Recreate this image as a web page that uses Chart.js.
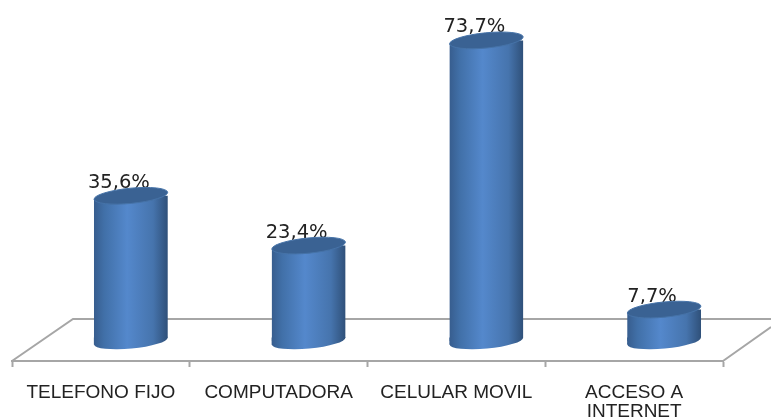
<!DOCTYPE html>
<html>
<head>
<meta charset="utf-8">
<style>
  html, body { margin: 0; background: #fff; }
  canvas { display: block; }
</style>
<script src="https://cdn.jsdelivr.net/npm/chart.js@4"></script>
</head>
<body>
<canvas id="chart1" width="771" height="419"></canvas>
<script>
var categories = ["TELEFONO FIJO", "COMPUTADORA", "CELULAR MOVIL", ["ACCESO A", "INTERNET"]];
var values = [35.6, 23.4, 73.7, 7.7];

var depthX = 30;      // bars sit this far right of their axis slot
var capRy = 7.6;
var capTilt = -5.5 * Math.PI / 180;
var capRise = 3.5;    // how much the cap's tilt lifts its right end

function barGradient(ctx, cx, half) {
  var g = ctx.createLinearGradient(cx - half, 0, cx + half, 0);
  g.addColorStop(0, "#375d8e");
  g.addColorStop(0.14, "#4170a8");
  g.addColorStop(0.45, "#5488cc");
  g.addColorStop(0.8, "#4674ad");
  g.addColorStop(1, "#2f5079");
  return g;
}

// floor of the 3D plot, drawn behind the bars, plus the value labels
var floorPlugin = {
  id: "floor",
  beforeDatasetsDraw: function (chart) {
    var c = chart.ctx, x = chart.scales.x, meta = chart.getDatasetMeta(0);
    var y0 = x.top, backY = y0 - 42;
    c.save();
    c.strokeStyle = "#a6a6a6";
    c.lineWidth = 2;
    c.beginPath();
    c.moveTo(x.left, y0);
    c.lineTo(x.left + 61, backY);
    c.lineTo(chart.width, backY);
    c.moveTo(x.right, y0);
    c.lineTo(chart.width, y0 - 34);
    c.stroke();

    c.fillStyle = "#222";
    c.font = "19.5px 'DejaVu Sans'";
    c.textAlign = "center";
    c.textBaseline = "middle";
    meta.data.forEach(function (bar, i) {
      var txt = values[i].toFixed(1).replace(".", ",") + "%";
      c.fillText(txt, bar.x - 12, bar.y - 13);
    });
    c.restore();

    // body is cut to the tilt of the caps
    c.save();
    c.beginPath();
    meta.data.forEach(function (bar) {
      var h = bar.width / 2;
      c.moveTo(bar.x - h, bar.y + capRise);
      c.lineTo(bar.x + h, bar.y - capRise);
      c.lineTo(bar.x + h, bar.base - capRise);
      c.lineTo(bar.x - h, bar.base + capRise);
      c.closePath();
    });
    c.clip();
  },
  afterDatasetsDraw: function (chart) {
    var c = chart.ctx, meta = chart.getDatasetMeta(0);
    c.restore();
    meta.data.forEach(function (bar) {
      var h = bar.width / 2;
      c.save();
      c.fillStyle = barGradient(c, bar.x, h);
      // fills the wedge between the flat bar end and the tilted bottom cap
      c.beginPath();
      c.moveTo(bar.x - h, bar.base - capRise);
      c.lineTo(bar.x + h, bar.base - capRise);
      c.lineTo(bar.x - h, bar.base + capRise);
      c.closePath();
      c.fill();
      c.beginPath();
      c.ellipse(bar.x, bar.base, h, capRy, capTilt, 0, Math.PI * 2);
      c.fill();
      c.fillStyle = "#3a6293";
      c.strokeStyle = "#4673a8";
      c.lineWidth = 1;
      c.beginPath();
      c.ellipse(bar.x, bar.y, h, capRy, capTilt, 0, Math.PI * 2);
      c.fill();
      c.stroke();
      c.restore();
    });
  },
  afterLayout: function (chart) {
    var s = chart.scales.xBars;
    s.left += depthX;
    s.right += depthX;
    s.configure();
  }
};

new Chart(document.getElementById("chart1"), {
  type: "bar",
  data: {
    labels: categories,
    datasets: [
      {
        data: values,
        xAxisID: "xBars",
        barPercentage: 0.416,
        categoryPercentage: 1,
        backgroundColor: function (ctx) {
          var s = ctx.chart.scales.xBars;
          if (ctx.dataIndex === undefined || !s) return "#4f81bd";
          var cx = s.getPixelForValue(ctx.dataIndex);
          if (!isFinite(cx) || !s.width) return "#4f81bd";
          return barGradient(ctx.chart.ctx, cx, s.width / 4 * 0.416 / 2);
        }
      }
    ]
  },
  options: {
    responsive: false,
    animation: false,
    layout: { padding: { left: 12, right: 48, top: 0, bottom: 0 } },
    plugins: { legend: { display: false }, tooltip: { enabled: false } },
    scales: {
      x: {
        position: "bottom",
        afterFit: function (scale) { scale.height = 58; },
        border: { color: "#a6a6a6", width: 2 },
        grid: { drawOnChartArea: false, tickLength: 6, tickColor: "#a6a6a6", tickWidth: 2 },
        ticks: {
          autoSkip: false,
          maxRotation: 0,
          padding: 16,
          color: "#222",
          font: { family: "'Liberation Sans'", size: 19, lineHeight: 1 }
        }
      },
      xBars: { type: "category", labels: categories, display: false, position: "bottom" },
      y: { display: false, min: -4.9, max: 83.6 }
    }
  },
  plugins: [floorPlugin]
});
</script>
</body>
</html>
